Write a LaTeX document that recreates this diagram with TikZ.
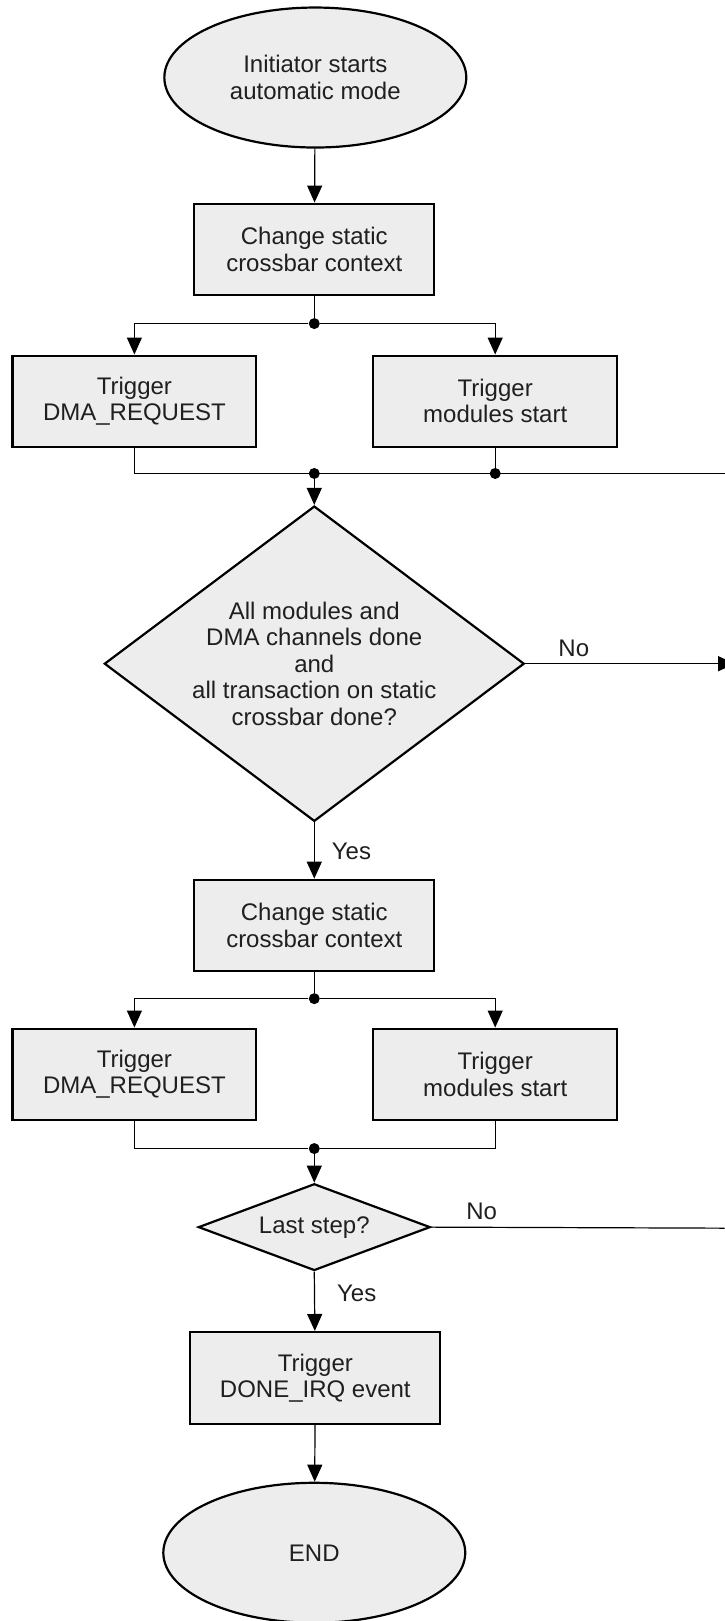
\documentclass[tikz,border=0pt]{standalone}
\usepackage{fontspec}
\setmainfont{Liberation Sans}
\usetikzlibrary{shapes.geometric,arrows.meta}

\begin{document}
\begin{tikzpicture}[x=0.517pt, y=-0.517pt,
    every node/.style={font=\fontsize{12}{13.3}\selectfont, text=black!88},
    flowbox/.style={draw, line width=1.1pt, fill=black!7, align=center,
        minimum width=120pt, minimum height=45.5pt, inner sep=0pt},
    terminal/.style={ellipse, draw, line width=1.1pt, fill=black!7, align=center,
        minimum width=151pt, minimum height=70pt, inner sep=0pt},
    decision/.style={diamond, draw, line width=1.1pt, fill=black!7, align=center, inner sep=0pt},
    flow/.style={line width=0.6pt, -{Triangle[width=7.5pt,length=8.5pt]}},
    link/.style={line width=0.6pt},
    joint/.style={circle, fill=black, inner sep=0pt, minimum size=5.5pt}]
    \useasboundingbox (0,0) rectangle (701,1568);

    % Start
    \node[terminal] (start) at (305,75) {Initiator starts\\automatic mode};
    \node[flowbox] (ctx1) at (304,241) {Change static\\crossbar context};
    \draw[flow] (start) -- (ctx1);

    % First trigger pair
    \node[flowbox, minimum width=122pt] (dma1) at (130,388) {Trigger\\DMA\_REQUEST};
    \node[flowbox, minimum width=122pt] (mod1) at (479,388) {Trigger\\modules start};
    \node[joint] (split1) at (304,313) {};
    \draw[link] (ctx1) -- (split1);
    \draw[flow] (split1) -| (dma1.north);
    \draw[flow] (split1) -| (mod1.north);
    \coordinate (edge1) at (701,458);
    \draw[link] (dma1.south) |- (edge1);
    \node[joint] (merge1) at (304,458) {};
    \node[joint] (back1) at (479,458) {};
    \draw[link] (mod1.south) -- (back1);

    % Big decision
    \node[decision, aspect=1.33, minimum width=210pt, minimum height=157.7pt] (done) at (304,642)
        {All modules and\\DMA channels done\\and\\all transaction on static\\crossbar done?};
    \draw[flow] (merge1) -- (done);
    \coordinate (edge2) at (711,642);
    \draw[flow] (done.east) -- (edge2);
    \node (no1) at (555,627) {No};
    \node (yes1) at (340,824) {Yes};

    % Second context change
    \node[flowbox] (ctx2) at (304,895) {Change static\\crossbar context};
    \draw[flow] (done.south) -- (ctx2);

    % Second trigger pair
    \node[flowbox, minimum width=122pt] (dma2) at (130,1039) {Trigger\\DMA\_REQUEST};
    \node[flowbox, minimum width=122pt] (mod2) at (479,1039) {Trigger\\modules start};
    \node[joint] (split2) at (304,966) {};
    \draw[link] (ctx2) -- (split2);
    \draw[flow] (split2) -| (dma2.north);
    \draw[flow] (split2) -| (mod2.north);
    \node[joint] (merge2) at (304,1111) {};
    \draw[link] (dma2.south) |- (merge2) -| (mod2.south);

    % Last step decision
    \node[decision, aspect=2.67, minimum width=116pt, minimum height=43.4pt] (last) at (304,1187) {Last step?};
    \draw[flow] (merge2) -- (last);
    \coordinate (edge3) at (701,1188);
    \draw[link] (last.east) -- (edge3);
    \node (no2) at (466,1172) {No};
    \node (yes2) at (345,1251) {Yes};

    % Done and end
    \node[flowbox, minimum width=125pt, minimum height=46pt] (irq) at (305,1333) {Trigger\\DONE\_IRQ event};
    \draw[flow] (last.south) -- (irq);
    \node[terminal] (end) at (304,1502) {END};
    \draw[flow] (irq) -- (end);
\end{tikzpicture}
\end{document}
